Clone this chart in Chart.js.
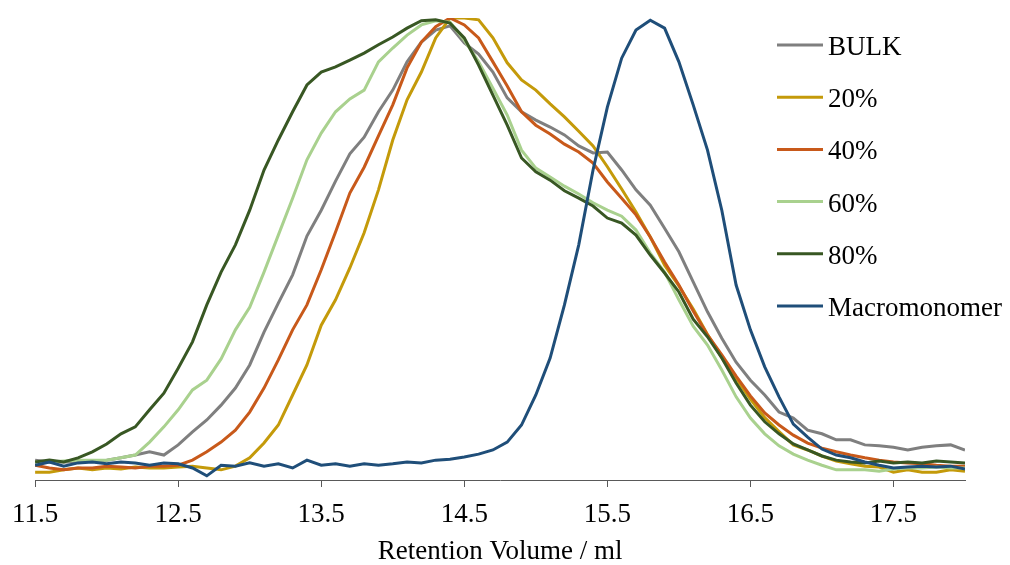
<!DOCTYPE html>
<html>
<head>
<meta charset="utf-8">
<title>GPC traces</title>
<script src="https://cdn.jsdelivr.net/npm/chart.js@4.4.1/dist/chart.umd.min.js"></script>
<style>
  html, body { margin: 0; padding: 0; background: #fff; }
  #wrap { width: 1010px; height: 565px; }
</style>
</head>
<body>
<div id="wrap"><canvas id="gpcChart" width="1010" height="565"></canvas></div>
<script>
// retention volume (ml)
var volume = [
  11.5, 11.6, 11.7, 11.8, 11.9, 12.0, 12.1, 12.2, 12.3, 12.4,
  12.5, 12.6, 12.7, 12.8, 12.9, 13.0, 13.1, 13.2, 13.3, 13.4,
  13.5, 13.6, 13.7, 13.8, 13.9, 14.0, 14.1, 14.2, 14.3, 14.4,
  14.5, 14.6, 14.7, 14.8, 14.9, 15.0, 15.1, 15.2, 15.3, 15.4,
  15.5, 15.6, 15.7, 15.8, 15.9, 16.0, 16.1, 16.2, 16.3, 16.4,
  16.5, 16.6, 16.7, 16.8, 16.9, 17.0, 17.1, 17.2, 17.3, 17.4,
  17.5, 17.6, 17.7, 17.8, 17.9, 18.0
];

// normalised detector response (peak = 100)
var bulk = [
  4.3, 3.9, 3.9, 3.9, 4.1, 4.3, 4.8, 5.4, 6.1, 5.4,
  7.6, 10.4, 13.0, 16.2, 19.9, 24.9, 32.0, 38.3, 44.4, 52.8,
  58.4, 64.7, 70.6, 74.2, 79.7, 84.4, 90.5, 94.8, 97.4, 98.3,
  94.6, 92.2, 88.3, 82.7, 79.7, 77.9, 76.4, 74.7, 72.3, 70.8,
  71.0, 67.1, 62.8, 59.5, 54.5, 49.4, 42.9, 36.4, 30.7, 25.5,
  21.6, 18.4, 14.7, 13.4, 10.8, 10.0, 8.7, 8.7, 7.6, 7.4,
  7.1, 6.5, 7.1, 7.4, 7.6, 6.5
];
var pct20 = [
  1.7, 1.7, 2.2, 2.6, 2.2, 2.6, 2.4, 2.8, 2.6, 2.6,
  2.8, 3.0, 2.6, 2.2, 3.0, 4.8, 8.0, 11.9, 18.4, 24.9,
  33.5, 39.0, 45.9, 53.5, 62.8, 73.6, 82.3, 88.3, 95.7, 100,
  100, 99.6, 95.7, 90.3, 86.6, 84.4, 81.4, 78.6, 75.5, 72.3,
  67.8, 63.0, 58.0, 52.6, 46.5, 42.0, 37.0, 31.5, 26.5, 22.0,
  17.5, 13.5, 10.5, 7.6, 6.5, 5.2, 4.1, 3.5, 3.0, 2.8,
  1.7, 2.2, 1.7, 1.7, 2.2, 1.9
];
var pct40 = [
  3.2, 2.6, 2.2, 2.6, 2.6, 3.0, 2.8, 2.6, 3.0, 3.0,
  3.2, 4.3, 6.1, 8.2, 10.8, 14.7, 19.9, 26.0, 32.5, 37.9,
  45.5, 53.7, 62.1, 67.7, 74.5, 81.2, 89.2, 94.8, 98.1, 100,
  98.5, 95.7, 90.5, 85.3, 79.7, 76.8, 74.9, 72.7, 71.0, 68.6,
  64.5, 61.0, 57.4, 52.6, 47.2, 42.2, 36.6, 31.4, 27.1, 22.5,
  18.2, 14.5, 11.9, 9.7, 8.0, 6.9, 6.1, 5.4, 4.8, 4.3,
  3.9, 3.7, 3.5, 3.2, 3.0, 3.0
];
var pct60 = [
  3.9, 3.9, 4.1, 4.3, 4.3, 4.3, 4.8, 5.4, 8.2, 11.5,
  15.2, 19.5, 21.6, 26.2, 32.5, 37.4, 45.0, 53.0, 61.0, 69.3,
  75.1, 79.7, 82.5, 84.4, 90.5, 93.5, 96.3, 98.5, 99.4, 99.1,
  95.2, 90.5, 84.8, 79.0, 71.4, 67.5, 65.6, 63.6, 61.9, 60.0,
  58.4, 57.1, 54.1, 49.1, 45.0, 39.0, 33.3, 29.2, 23.8, 18.0,
  13.4, 10.0, 7.4, 5.6, 4.3, 3.2, 2.2, 2.2, 2.2, 1.9,
  2.4, 2.6, 2.6, 2.8, 2.6, 2.6
];
var pct80 = [
  3.9, 4.3, 3.9, 4.8, 6.1, 7.8, 10.0, 11.5, 15.2, 18.8,
  24.2, 29.9, 37.9, 45.0, 50.9, 58.4, 67.1, 73.6, 79.7, 85.5,
  88.3, 89.4, 90.9, 92.4, 94.2, 95.9, 97.8, 99.4, 99.6, 98.9,
  95.7, 89.8, 83.3, 76.8, 69.7, 66.7, 64.9, 62.6, 61.0, 59.3,
  56.7, 55.6, 53.0, 48.7, 44.8, 40.7, 34.8, 31.0, 26.4, 21.0,
  16.2, 12.6, 10.0, 7.8, 6.5, 5.2, 4.3, 3.9, 3.7, 4.1,
  3.7, 3.9, 3.7, 4.1, 3.9, 3.7
];
var macromonomer = [
  3.2, 3.9, 3.0, 3.7, 3.9, 3.5, 3.9, 3.7, 3.2, 3.7,
  3.5, 2.6, 0.9, 3.2, 3.0, 3.7, 3.0, 3.5, 2.6, 4.3,
  3.2, 3.5, 3.0, 3.5, 3.2, 3.5, 3.9, 3.7, 4.3, 4.5,
  5.0, 5.6, 6.5, 8.2, 11.9, 18.4, 26.4, 37.9, 50.9, 67.1,
  80.7, 91.3, 97.4, 99.5, 97.8, 90.5, 81.2, 71.4, 58.4, 42.2,
  32.5, 24.5, 18.0, 12.1, 9.3, 6.7, 5.4, 4.8, 3.9, 3.2,
  2.6, 2.8, 3.0, 2.8, 3.0, 2.4
];

var seriesNames = ['BULK', '20%', '40%', '60%', '80%', 'Macromonomer'];
var seriesColors = ['#7f7f7f', '#c49a0a', '#c8591a', '#a9d18e', '#385723', '#1f4e79'];
var tickValues = [11.5, 12.5, 13.5, 14.5, 15.5, 16.5, 17.5];

var SERIF = '"Liberation Serif", "Times New Roman", serif';

function toPoints(values) {
    var pts = [];
    for (var i = 0; i < volume.length; i++) {
        pts.push({ x: volume[i], y: values[i] });
    }
    return pts;
}

var allSeries = [bulk, pct20, pct40, pct60, pct80, macromonomer];
var datasets = [];
for (var s = 0; s < allSeries.length; s++) {
    datasets.push({
        label: seriesNames[s],
        data: toPoints(allSeries[s]),
        borderColor: seriesColors[s],
        backgroundColor: seriesColors[s],
        borderWidth: 3,
        pointRadius: 0,
        tension: 0,
        order: allSeries.length - s   // later series drawn on top
    });
}

// legend stacked on the right, over the plot area
var sideLegend = {
    id: 'sideLegend',
    afterDraw: function(chart) {
        var ctx = chart.ctx;
        var sets = chart.data.datasets;
        ctx.save();
        ctx.font = '27px ' + SERIF;
        ctx.textBaseline = 'middle';
        ctx.textAlign = 'left';
        ctx.fillStyle = '#000';
        for (var i = 0; i < sets.length; i++) {
            var y = 45 + i * 52.2;
            ctx.strokeStyle = sets[i].borderColor;
            ctx.lineWidth = 3;
            ctx.beginPath();
            ctx.moveTo(777, y);
            ctx.lineTo(823, y);
            ctx.stroke();
            ctx.fillText(sets[i].label, 828, y + 3);
        }
        ctx.restore();
    }
};

new Chart(document.getElementById('gpcChart'), {
    type: 'line',
    data: { datasets: datasets },
    plugins: [sideLegend],
    options: {
        responsive: false,
        animation: false,
        layout: { padding: { left: 34, right: 45, top: 18, bottom: 0 } },
        plugins: {
            legend: { display: false },
            tooltip: { enabled: false }
        },
        scales: {
            x: {
                type: 'linear',
                min: 11.5,
                max: 18,
                afterBuildTicks: function(scale) {
                    scale.ticks = tickValues.map(function(v) { return { value: v }; });
                },
                afterFit: function(scale) { scale.height = 85; },
                grid: {
                    drawOnChartArea: false,
                    drawTicks: true,
                    tickLength: 7,
                    color: '#595959'
                },
                border: { display: true, color: '#595959', width: 1 },
                ticks: {
                    padding: 12,
                    maxRotation: 0,
                    autoSkip: false,
                    color: '#000',
                    font: { family: SERIF, size: 27 },
                    callback: function(v) { return Number(v).toFixed(1); }
                },
                title: {
                    display: true,
                    text: 'Retention Volume / ml',
                    color: '#000',
                    font: { family: SERIF, size: 27, lineHeight: 1.0 },
                    padding: { top: 0, bottom: 0 }
                }
            },
            y: {
                display: false,
                min: 0,
                max: 100
            }
        }
    }
});
</script>
</body>
</html>
